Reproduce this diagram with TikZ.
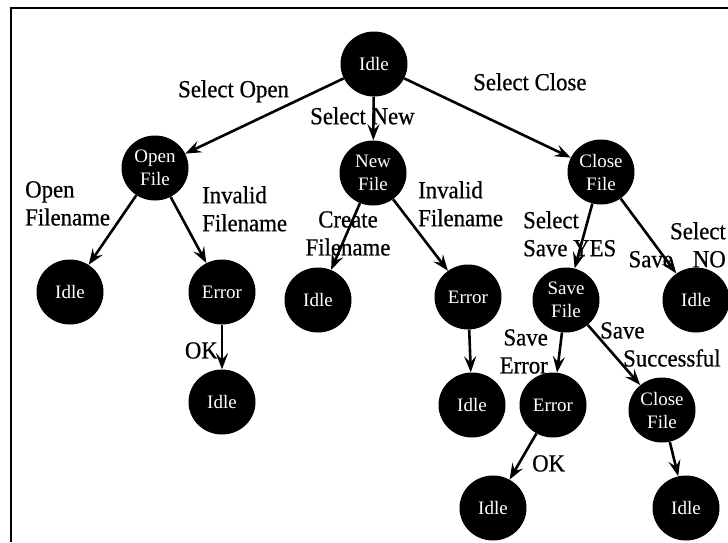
\documentclass[tikz,border=0pt]{standalone}
\usepackage{fontspec}
\setmainfont{Liberation Serif}
\newfontfamily\labelfont[FakeStretch=0.93, FakeBold=0.6]{Liberation Serif}
\usetikzlibrary{shapes.geometric,arrows.meta}

\tikzset{
  state/.style={ellipse, fill=black, text=white, inner sep=0pt,
    minimum width=67pt, minimum height=65pt, align=center,
    font=\fontsize{19}{23}\selectfont},
  lbl/.style={inner sep=0pt, font=\labelfont\fontsize{24.5}{28}\selectfont},
  trans/.style={line width=2.6pt, -{Stealth[length=16pt,width=12pt,inset=6pt]}},
  frame/.style={line width=2.2pt}
}

\begin{document}
\begin{tikzpicture}[x=1pt, y=-1pt]
\useasboundingbox (0,0) rectangle (728,542);

% outer frame (left and top edges)
\draw[frame] (11,542) -- (11,8) -- (728,8);

% states
\node[state] (i0)  at (374, 64)  {Idle};
\node[state] (of)  at (155,168)  {Open\\File};
\node[state] (nf)  at (373,173)  {New\\File};
\node[state] (cf)  at (601,172)  {Close\\File};
\node[state] (i1)  at ( 70,292)  {Idle};
\node[state] (e1)  at (222,292)  {Error};
\node[state] (i2)  at (222,402)  {Idle};
\node[state] (i3)  at (318,300)  {Idle};
\node[state] (e2)  at (468,297)  {Error};
\node[state] (i4)  at (472,405)  {Idle};
\node[state] (sf)  at (566,300)  {Save\\File};
\node[state] (i5)  at (696,300)  {Idle};
\node[state] (e3)  at (553,405)  {Error};
\node[state] (cf2) at (662,410)  {Close\\File};
\node[state] (i6)  at (493,508)  {Idle};
\node[state] (i7)  at (686,508)  {Idle};

% transitions
\draw[trans] (i0) -- (of);
\draw[trans] (i0) -- (nf);
\draw[trans] (i0) -- (cf);
\draw[trans] (of) -- (i1);
\draw[trans] (of) -- (e1);
\draw[trans] (e1) -- (i2);
\draw[trans] (nf) -- (i3);
\draw[trans] (nf) -- (e2);
\draw[trans] (e2) -- (i4);
\draw[trans] (cf) -- (sf);
\draw[trans] (cf) -- (i5);
\draw[trans] (sf) -- (e3);
\draw[trans] (sf) -- (cf2);
\draw[trans] (e3) -- (i6);
\draw[trans] (cf2) -- (i7);

% transition labels
\node[lbl, anchor=north west] (lso) at (178, 80) {Select Open};
\node[lbl, anchor=north west] (lsn) at (310,107) {Select New};
\node[lbl, anchor=north west] (lsc) at (473, 73) {Select Close};
\node[lbl, anchor=north west, align=left] (lof) at (25,181) {Open\\Filename};
\node[lbl, anchor=north west, align=left] (lif1) at (202,186) {Invalid\\Filename};
\node[lbl, anchor=north, align=center] (lcf) at (348,211) {Create\\Filename};
\node[lbl, anchor=north west, align=left] (lif2) at (418,181) {Invalid\\Filename};
\node[lbl, anchor=north west, align=left] (lsy) at (523,211) {Select\\Save YES};
\node[lbl, anchor=north east, align=right] (lsno) at (726,222) {Select\\Save\hspace{20pt}NO};
\node[lbl, anchor=north east, align=right] (lse) at (548,329) {Save\\Error};
\node[lbl, anchor=north west, align=left] (lss) at (600,322) {Save\\\hspace{23pt}Successful};
\node[lbl, anchor=north east] (lok1) at (218,342) {OK};
\node[lbl, anchor=north west] (lok2) at (532,455) {OK};
\end{tikzpicture}
\end{document}
